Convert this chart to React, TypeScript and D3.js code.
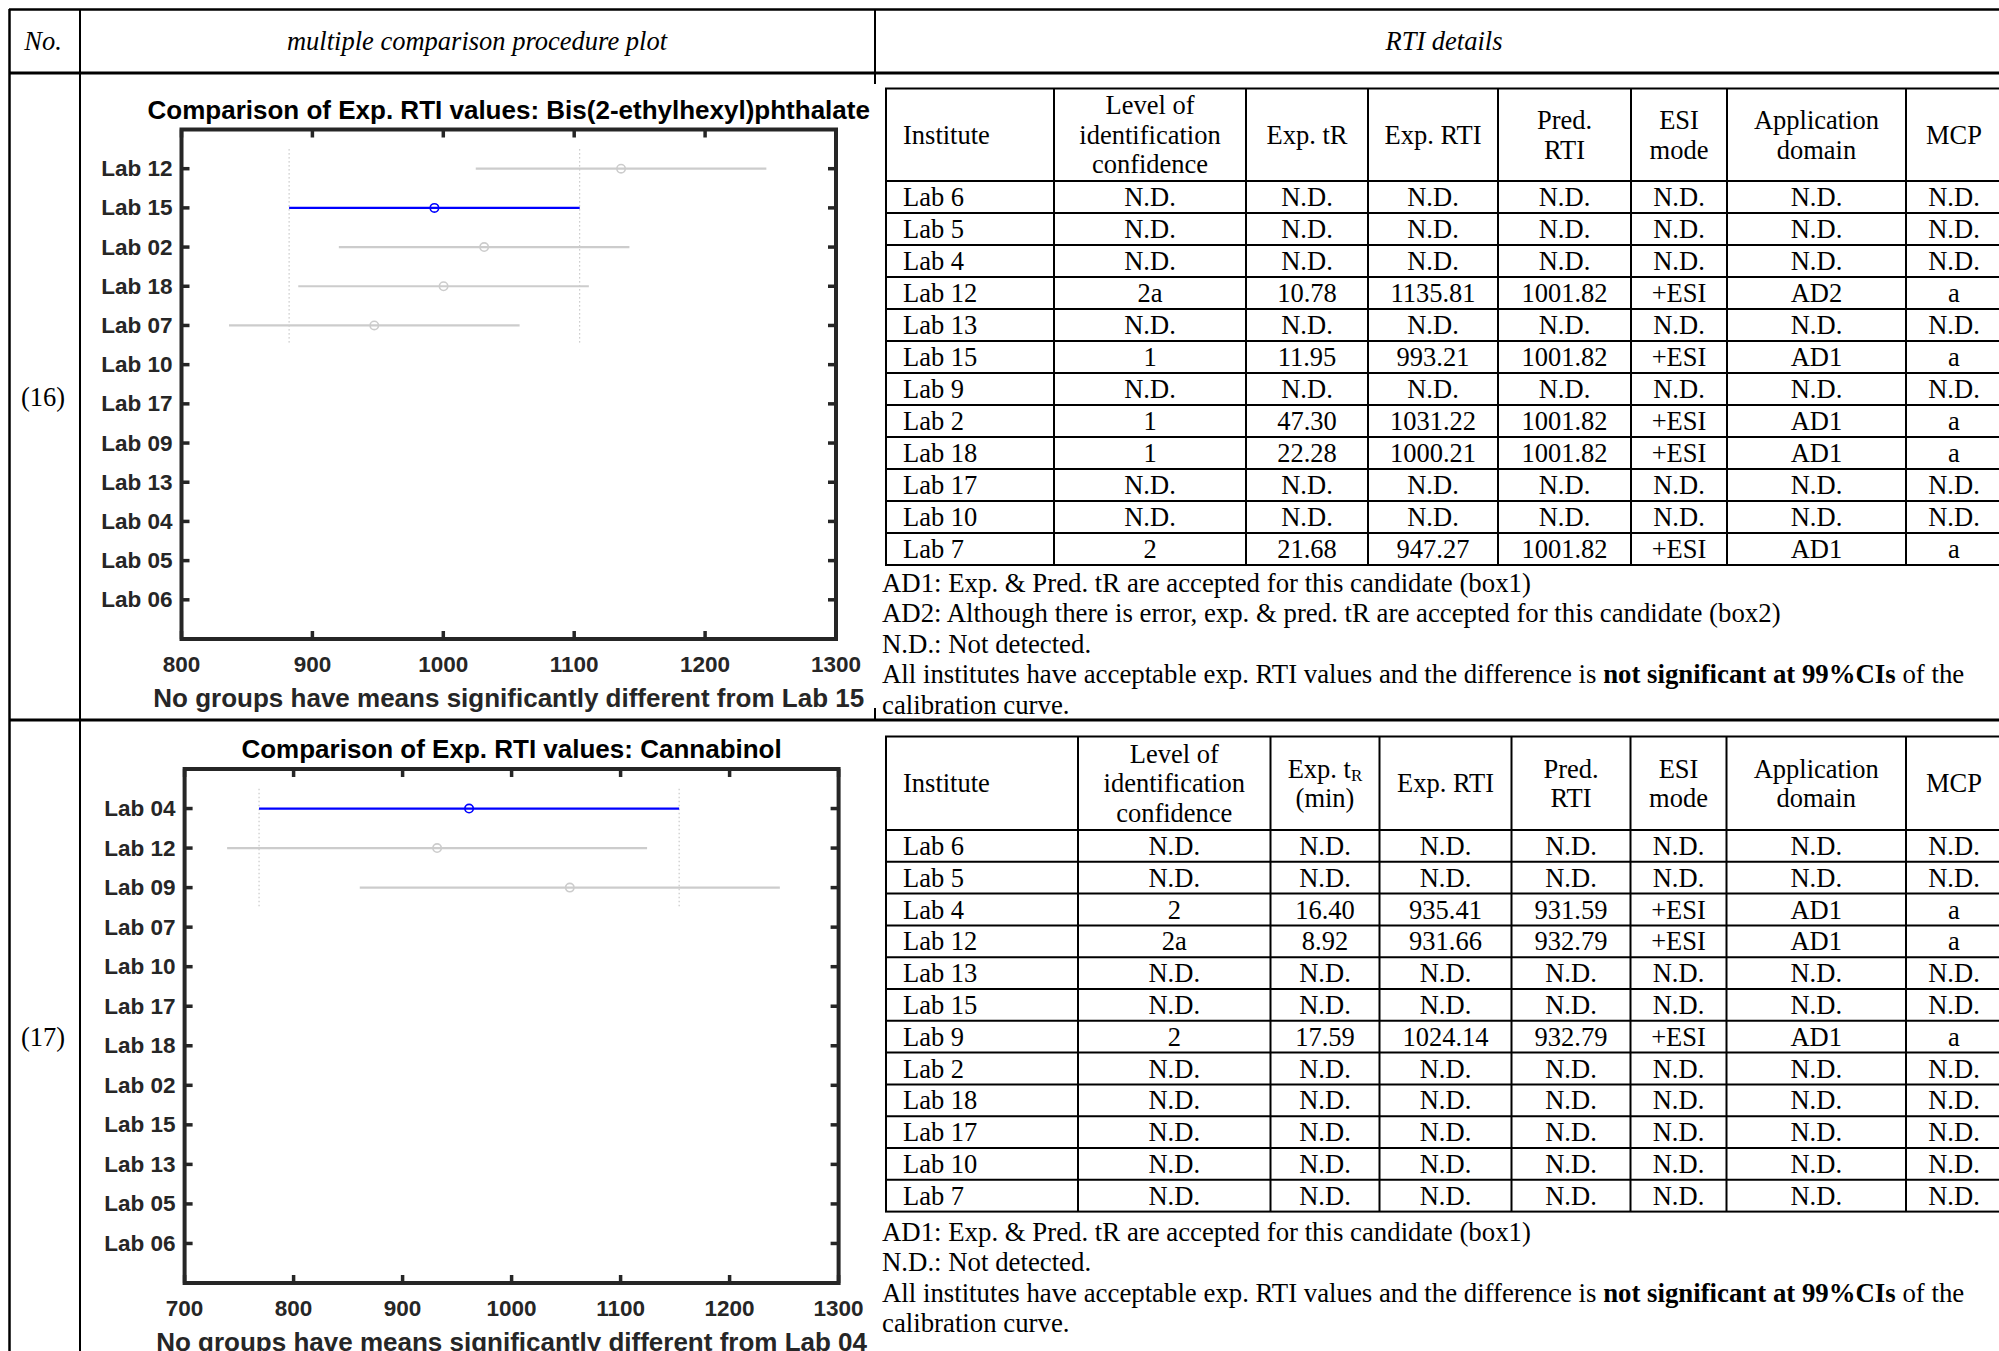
import React, { useEffect } from "react";
import * as d3 from "d3";

// ---------- data: plot (16) Bis(2-ethylhexyl)phthalate ----------
const labs16 = ["Lab 12", "Lab 15", "Lab 02", "Lab 18", "Lab 07", "Lab 10", "Lab 17", "Lab 09", "Lab 13", "Lab 04", "Lab 05", "Lab 06"];
const means16 = [1135.81, 993.21, 1031.22, 1000.21, 947.27];
const lower16 = [1024.8, 882.2, 920.2, 889.2, 836.3];
const upper16 = [1246.8, 1104.2, 1142.2, 1111.2, 1058.3];
const ticks16 = [800, 900, 1000, 1100, 1200, 1300];

// ---------- data: plot (17) Cannabinol ----------
const labs17 = ["Lab 04", "Lab 12", "Lab 09", "Lab 07", "Lab 10", "Lab 17", "Lab 18", "Lab 02", "Lab 15", "Lab 13", "Lab 05", "Lab 06"];
const means17 = [961.0, 931.66, 1053.4];
const lower17 = [768.3, 739.0, 860.7];
const upper17 = [1153.7, 1124.3, 1246.1];
const ticks17 = [700, 800, 900, 1000, 1100, 1200, 1300];

// ---------- data: RTI detail tables ----------
const ND = "N.D.";
const institutes = ["Lab 6", "Lab 5", "Lab 4", "Lab 12", "Lab 13", "Lab 15", "Lab 9", "Lab 2", "Lab 18", "Lab 17", "Lab 10", "Lab 7"];

const level16 = [ND, ND, ND, "2a", ND, "1", ND, "1", "1", ND, ND, "2"];
const expTR16 = [ND, ND, ND, "10.78", ND, "11.95", ND, "47.30", "22.28", ND, ND, "21.68"];
const expRTI16 = [ND, ND, ND, "1135.81", ND, "993.21", ND, "1031.22", "1000.21", ND, ND, "947.27"];
const predRTI16 = [ND, ND, ND, "1001.82", ND, "1001.82", ND, "1001.82", "1001.82", ND, ND, "1001.82"];
const esi16 = [ND, ND, ND, "+ESI", ND, "+ESI", ND, "+ESI", "+ESI", ND, ND, "+ESI"];
const domain16 = [ND, ND, ND, "AD2", ND, "AD1", ND, "AD1", "AD1", ND, ND, "AD1"];
const mcp16 = [ND, ND, ND, "a", ND, "a", ND, "a", "a", ND, ND, "a"];

const level17 = [ND, ND, "2", "2a", ND, ND, "2", ND, ND, ND, ND, ND];
const expTR17 = [ND, ND, "16.40", "8.92", ND, ND, "17.59", ND, ND, ND, ND, ND];
const expRTI17 = [ND, ND, "935.41", "931.66", ND, ND, "1024.14", ND, ND, ND, ND, ND];
const predRTI17 = [ND, ND, "931.59", "932.79", ND, ND, "932.79", ND, ND, ND, ND, ND];
const esi17 = [ND, ND, "+ESI", "+ESI", ND, ND, "+ESI", ND, ND, ND, ND, ND];
const domain17 = [ND, ND, "AD1", "AD1", ND, ND, "AD1", ND, ND, ND, ND, ND];
const mcp17 = [ND, ND, "a", "a", ND, ND, "a", ND, ND, ND, ND, ND];

const heads16 = [["Institute"], ["Level of", "identification", "confidence"], ["Exp. tR"], ["Exp. RTI"], ["Pred.", "RTI"], ["ESI", "mode"], ["Application", "domain"], ["MCP"]];
const heads17 = [["Institute"], ["Level of", "identification", "confidence"], ["Exp. t_R", "(min)"], ["Exp. RTI"], ["Pred.", "RTI"], ["ESI", "mode"], ["Application", "domain"], ["MCP"]];

const noteAD1 = [["AD1: Exp. & Pred. tR are accepted for this candidate (box1)", false]];
const noteAD2 = [["AD2: Although there is error, exp. & pred. tR are accepted for this candidate (box2)", false]];
const noteND = [["N.D.: Not detected.", false]];
const noteAll = [["All institutes have acceptable exp. RTI values and the difference is ", false], ["not significant at 99%CIs", true], [" of the", false]];
const noteCal = [["calibration curve.", false]];

const SANS = "'Liberation Sans', Arial, Helvetica, sans-serif";
const SERIF = "'Liberation Serif', 'Times New Roman', Times, serif";
const AX = "#262626";

function McpPlot(p: any) {
  const { left, right, top, bottom, domain, ticks, labs, means, lower, upper, ref, title, xlabel } = p;
  const x = d3.scaleLinear().domain(domain).range([left, right]);
  const y = d3.scaleLinear().domain([0, labs.length + 1]).range([bottom, top]);
  const pos = (i: number) => y(labs.length - i);
  const n = means.length;
  const mid = (left + right) / 2;
  return (
    <g>
      <text x={mid} y={top - 20} textAnchor="middle" dominantBaseline="central" fontFamily={SANS} fontWeight="bold" fontSize={26} fill="#000">{title}</text>
      {/* dotted reference limits */}
      {[lower[ref], upper[ref]].map((v: number, k: number) => (
        <line key={k} x1={x(v)} x2={x(v)} y1={pos(-0.5)} y2={pos(n - 0.5)} stroke="#bdbdbd" strokeWidth={1} strokeDasharray="1.5,2.5" />
      ))}
      {means.map((m: number, i: number) => {
        const c = i === ref ? "#0000ff" : "#cccccc";
        return (
          <g key={i}>
            <line x1={x(lower[i])} x2={x(upper[i])} y1={pos(i)} y2={pos(i)} stroke={c} strokeWidth={2.2} />
            <circle cx={x(m)} cy={pos(i)} r={4.2} fill="none" stroke={c} strokeWidth={1.6} />
          </g>
        );
      })}
      {/* axes box */}
      <rect x={left} y={top} width={right - left} height={bottom - top} fill="none" stroke={AX} strokeWidth={4} />
      {ticks.map((t: number) => (
        <g key={t}>
          <line x1={x(t)} x2={x(t)} y1={bottom} y2={bottom - 8} stroke={AX} strokeWidth={3.5} />
          <line x1={x(t)} x2={x(t)} y1={top} y2={top + 8} stroke={AX} strokeWidth={3.5} />
          <text x={x(t)} y={bottom + 25} textAnchor="middle" dominantBaseline="central" fontFamily={SANS} fontWeight="bold" fontSize={22.5} fill={AX}>{t}</text>
        </g>
      ))}
      {labs.map((l: string, i: number) => (
        <g key={l}>
          <line x1={left} x2={left + 8} y1={pos(i)} y2={pos(i)} stroke={AX} strokeWidth={3.5} />
          <line x1={right} x2={right - 8} y1={pos(i)} y2={pos(i)} stroke={AX} strokeWidth={3.5} />
          <text x={left - 9} y={pos(i)} textAnchor="end" dominantBaseline="central" fontFamily={SANS} fontWeight="bold" fontSize={22.5} fill={AX}>{l}</text>
        </g>
      ))}
      <text x={mid} y={bottom + 59} textAnchor="middle" dominantBaseline="central" fontFamily={SANS} fontWeight="bold" fontSize={26} fill={AX}>{xlabel}</text>
    </g>
  );
}

function HeadLine({ s, x, y }: any) {
  if (s.includes("_")) {
    const [a, b] = s.split("_");
    return (
      <text x={x} y={y} textAnchor="middle" dominantBaseline="central" fontFamily={SERIF} fontSize={26.5}>
        {a}<tspan fontSize={17} dy={6}>{b}</tspan>
      </text>
    );
  }
  return <text x={x} y={y} textAnchor="middle" dominantBaseline="central" fontFamily={SERIF} fontSize={26.5}>{s}</text>;
}

function RtiTable(p: any) {
  const { top, headBottom, rowH, cols, heads, columns, notes, noteGap } = p;
  const n = columns[0].length;
  const rowY = d3.scaleLinear().domain([0, n]).range([headBottom, headBottom + rowH * n]);
  const bottom = rowY(n);
  const hc = (top + headBottom) / 2;
  const lh = 29.5;
  return (
    <g>
      <rect x={cols[0]} y={top} width={cols[cols.length - 1] - cols[0]} height={bottom - top} fill="none" stroke="#000" strokeWidth={2} />
      {cols.slice(1, -1).map((c: number, i: number) => (
        <line key={i} x1={c} x2={c} y1={top} y2={bottom} stroke="#000" strokeWidth={2} />
      ))}
      {d3.range(n).map((i) => (
        <line key={i} x1={cols[0]} x2={cols[cols.length - 1]} y1={rowY(i)} y2={rowY(i)} stroke="#000" strokeWidth={2} />
      ))}
      {heads.map((h: string[], j: number) =>
        h.map((s, k) => {
          const yy = hc + (k - (h.length - 1) / 2) * lh;
          if (j === 0)
            return <text key={j + "-" + k} x={cols[0] + 17} y={yy} dominantBaseline="central" fontFamily={SERIF} fontSize={26.5}>{s}</text>;
          return <HeadLine key={j + "-" + k} s={s} x={(cols[j] + cols[j + 1]) / 2} y={yy} />;
        })
      )}
      {columns.map((col: string[], j: number) =>
        col.map((v, i) => {
          const yy = (rowY(i) + rowY(i + 1)) / 2;
          return j === 0 ? (
            <text key={j + "-" + i} x={cols[0] + 17} y={yy} dominantBaseline="central" fontFamily={SERIF} fontSize={26.5}>{v}</text>
          ) : (
            <text key={j + "-" + i} x={(cols[j] + cols[j + 1]) / 2} y={yy} textAnchor="middle" dominantBaseline="central" fontFamily={SERIF} fontSize={26.5}>{v}</text>
          );
        })
      )}
      {notes.map((segs: any[], i: number) => (
        <text key={i} x={cols[0] - 4} y={bottom + noteGap + i * 30.6} dominantBaseline="central" fontFamily={SERIF} fontSize={26.8}>
          {segs.map(([t, b]: any, k: number) => (
            <tspan key={k} fontWeight={b ? "bold" : "normal"}>{t}</tspan>
          ))}
        </text>
      ))}
    </g>
  );
}

export default function App() {
  useEffect(() => {
    document.body.style.margin = "0";
  }, []);
  const W = 1999;
  const H = 1351;
  const it = { fontFamily: SERIF, fontSize: 26.5, fontStyle: "italic" } as any;
  return (
    <svg width={W} height={H} style={{ display: "block", position: "absolute", left: 0, top: 0, background: "#fff" }}>
      <rect width={W} height={H} fill="#fff" />
      {/* outer frame */}
      <line x1={9} x2={W} y1={9.5} y2={9.5} stroke="#000" strokeWidth={2.5} />
      <line x1={9.5} x2={9.5} y1={9} y2={H} stroke="#000" strokeWidth={2.5} />
      <line x1={80} x2={80} y1={9} y2={H} stroke="#000" strokeWidth={2} />
      <line x1={9} x2={W} y1={73} y2={73} stroke="#000" strokeWidth={3} />
      <line x1={9} x2={W} y1={720} y2={720} stroke="#000" strokeWidth={3} />
      <line x1={875} x2={875} y1={9} y2={84} stroke="#000" strokeWidth={2} />
      <line x1={875} x2={875} y1={708} y2={720} stroke="#000" strokeWidth={2} />
      <text x={43} y={41} textAnchor="middle" dominantBaseline="central" {...it}>No.</text>
      <text x={477} y={41} textAnchor="middle" dominantBaseline="central" {...it}>multiple comparison procedure plot</text>
      <text x={1444} y={41} textAnchor="middle" dominantBaseline="central" {...it}>RTI details</text>
      <text x={43} y={397} textAnchor="middle" dominantBaseline="central" fontFamily={SERIF} fontSize={26.5}>(16)</text>
      <text x={43} y={1037} textAnchor="middle" dominantBaseline="central" fontFamily={SERIF} fontSize={26.5}>(17)</text>

      <McpPlot left={181.5} right={836} top={129.5} bottom={639} domain={[800, 1300]} ticks={ticks16}
        labs={labs16} means={means16} lower={lower16} upper={upper16} ref={1}
        title="Comparison of Exp. RTI values: Bis(2-ethylhexyl)phthalate"
        xlabel="No groups have means significantly different from Lab 15" />
      <McpPlot left={184.6} right={838.6} top={769} bottom={1283} domain={[700, 1300]} ticks={ticks17}
        labs={labs17} means={means17} lower={lower17} upper={upper17} ref={0}
        title="Comparison of Exp. RTI values: Cannabinol"
        xlabel="No groups have means significantly different from Lab 04" />

      <RtiTable top={88.5} headBottom={181} rowH={32} cols={[886, 1054, 1246, 1368, 1498, 1631, 1727, 1906, 2002]}
        heads={heads16} columns={[institutes, level16, expTR16, expRTI16, predRTI16, esi16, domain16, mcp16]}
        notes={[noteAD1, noteAD2, noteND, noteAll, noteCal]} noteGap={17.6} />
      <RtiTable top={736.5} headBottom={830} rowH={31.8} cols={[886, 1078, 1270.5, 1379.5, 1511.5, 1630.5, 1726.5, 1906, 2002]}
        heads={heads17} columns={[institutes, level17, expTR17, expRTI17, predRTI17, esi17, domain17, mcp17]}
        notes={[noteAD1, noteND, noteAll, noteCal]} noteGap={20} />
    </svg>
  );
}
